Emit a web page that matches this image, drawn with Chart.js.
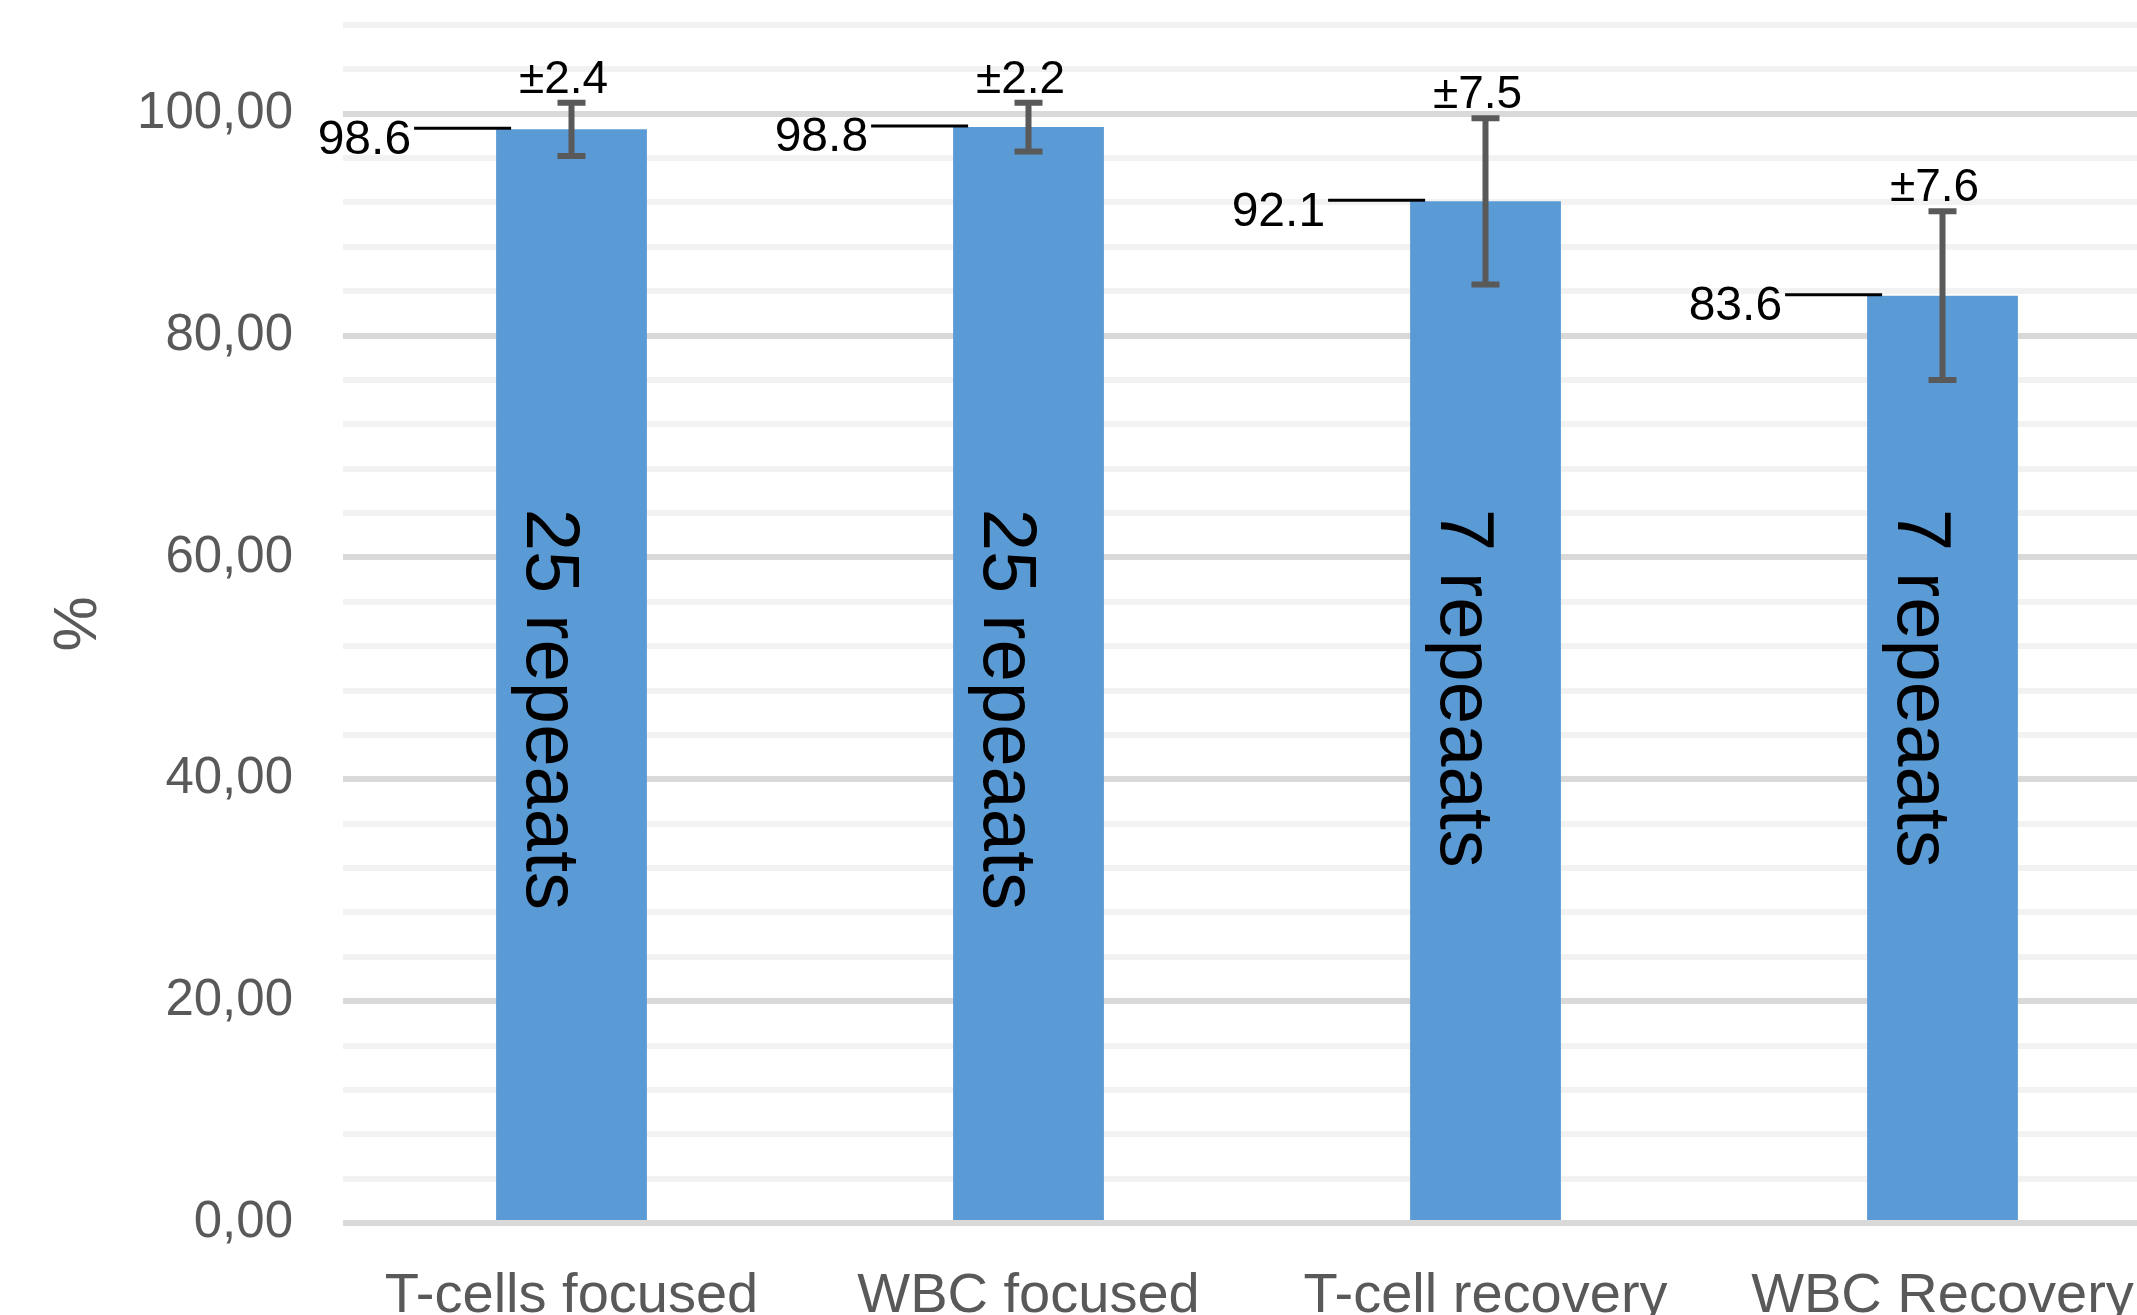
<!DOCTYPE html>
<html>
<head>
<meta charset="utf-8">
<script src="https://cdn.jsdelivr.net/npm/chart.js@4.4.1/dist/chart.umd.min.js"></script>
<style>
  html, body { margin: 0; padding: 0; background: #fff; overflow: hidden; }
  #wrap { width: 2171px; height: 1315px; position: relative; }
</style>
</head>
<body>
<div id="wrap"><canvas id="barChart"></canvas></div>
<script>
// chart data
const categories = ['T-cells focused', 'WBC focused', 'T-cell recovery', 'WBC Recovery'];
const meanValues = [98.6, 98.8, 92.1, 83.6];
const errorValues = [2.4, 2.2, 7.5, 7.6];
const repeatLabels = ['25 repeaats', '25 repeaats', '7 repeaats', '7 repeaats'];
const yMin = 0;
const yMax = 108;
const gridStep = 4;
const labelStep = 20;

const FONT = "'Liberation Sans', Arial, sans-serif";

// error bars, value labels with leader lines, rotated text in bars
const annotatePlugin = {
    id: 'annotate',
    afterDatasetsDraw(chart) {
        const ctx = chart.ctx;
        const yScale = chart.scales.y;
        const meta = chart.getDatasetMeta(0);
        ctx.save();
        meta.data.forEach((bar, i) => {
            const p = bar.getProps(['x', 'y', 'width'], true);
            const left = p.x - p.width / 2;

            // text inside the bar
            ctx.save();
            ctx.translate(p.x - 45, yScale.getPixelForValue(64.4));
            ctx.rotate(Math.PI / 2);
            ctx.fillStyle = '#000';
            ctx.font = '76px ' + FONT;
            ctx.textAlign = 'left';
            ctx.textBaseline = 'alphabetic';
            ctx.fillText(repeatLabels[i], 0, 0);
            ctx.restore();

            // error bar
            const hi = yScale.getPixelForValue(meanValues[i] + errorValues[i]);
            const lo = yScale.getPixelForValue(meanValues[i] - errorValues[i]);
            ctx.strokeStyle = '#595959';
            ctx.lineWidth = 6;
            ctx.beginPath();
            ctx.moveTo(p.x, hi); ctx.lineTo(p.x, lo);
            ctx.moveTo(p.x - 14, hi); ctx.lineTo(p.x + 14, hi);
            ctx.moveTo(p.x - 14, lo); ctx.lineTo(p.x + 14, lo);
            ctx.stroke();

            // ± label
            ctx.fillStyle = '#000';
            ctx.font = '46px ' + FONT;
            ctx.textAlign = 'center';
            ctx.textBaseline = 'alphabetic';
            ctx.fillText('±' + errorValues[i], p.x - 8, hi - 10);

            // value label with leader line
            const lineEnd = left + 15;
            const lineStart = lineEnd - 97;
            ctx.strokeStyle = '#000';
            ctx.lineWidth = 3;
            ctx.beginPath();
            ctx.moveTo(lineStart, p.y - 1);
            ctx.lineTo(lineEnd, p.y - 1);
            ctx.stroke();
            ctx.font = '48px ' + FONT;
            ctx.textAlign = 'right';
            ctx.textBaseline = 'middle';
            ctx.fillText(meanValues[i].toFixed(1), lineStart - 3, p.y + 11);
        });
        ctx.restore();
    }
};

const ctx = document.getElementById('barChart').getContext('2d');
const barChart = new Chart(ctx, {
    type: 'bar',
    data: {
        labels: categories,
        datasets: [{
            data: meanValues,
            backgroundColor: '#5b9bd5',
            borderWidth: 0,
            barPercentage: 1,
            categoryPercentage: 0.33
        }]
    },
    options: {
        responsive: true,
        maintainAspectRatio: false,
        animation: false,
        layout: { padding: { top: 25, right: 0, bottom: 0, left: 0 } },
        plugins: {
            legend: { display: false },
            tooltip: { enabled: false }
        },
        scales: {
            x: {
                grid: { display: false },
                border: { display: false },
                ticks: {
                    color: '#595959',
                    font: { family: FONT, size: 56 },
                    padding: 32,
                    maxRotation: 0,
                    autoSkip: false
                },
                afterFit(scale) {
                    scale.height = 92;
                    scale.paddingLeft = 0;
                    scale.paddingRight = 0;
                }
            },
            y: {
                min: yMin,
                max: yMax,
                border: { display: false },
                grid: {
                    drawTicks: false,
                    lineWidth: 6,
                    color: c => (c.tick && c.tick.value % labelStep === 0) ? '#d9d9d9' : '#f2f2f2'
                },
                ticks: {
                    stepSize: gridStep,
                    autoSkip: false,
                    padding: 50,
                    color: '#595959',
                    font: { family: FONT, size: 51 },
                    callback: v => (v % labelStep === 0) ? v.toFixed(2).replace('.', ',') : ''
                },
                title: {
                    display: true,
                    text: '%',
                    color: '#595959',
                    font: { family: FONT, size: 62 },
                    padding: { top: 42, bottom: 0 }
                },
                afterFit(scale) {
                    scale.width = 343;
                    scale.paddingTop = 0;
                    scale.paddingBottom = 0;
                }
            }
        }
    },
    plugins: [annotatePlugin]
});
</script>
</body>
</html>
